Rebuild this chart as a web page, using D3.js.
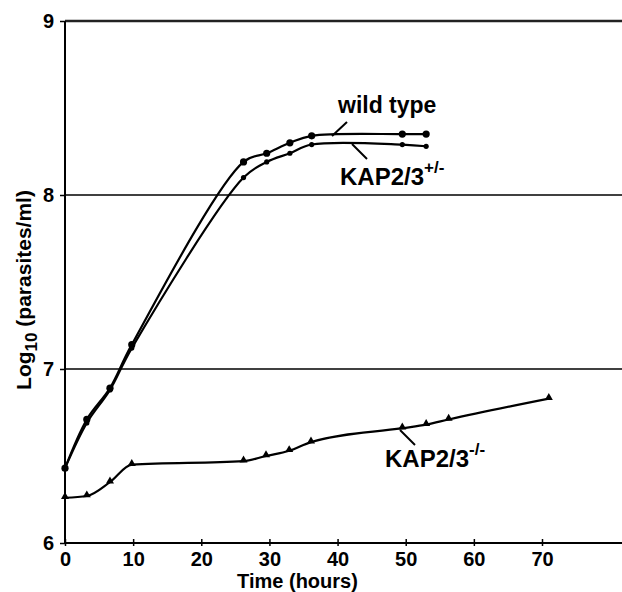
<!DOCTYPE html>
<html>
<head>
  <meta charset="utf-8">
  <title>Growth curves</title>
  <script src="https://d3js.org/d3.v7.min.js"></script>
  <style>
    body { margin: 0; background: #fff; }
    text { font-family: "Liberation Sans", Arial, sans-serif; font-weight: bold; fill: #000; }
  </style>
</head>
<body>
  <div id="viz"></div>
<script>
  // time (hours) for each series
  const timeWT = [0, 3.2, 6.6, 9.8, 26.2, 29.6, 33, 36.2, 49.5, 53];
  const valWT = [6.43, 6.71, 6.89, 7.14, 8.19, 8.24, 8.30, 8.34, 8.35, 8.35];
  const timeHet = [0, 3.2, 6.6, 9.8, 26.2, 29.6, 33, 36.2, 49.5, 53];
  const valHet = [6.43, 6.69, 6.88, 7.12, 8.10, 8.19, 8.24, 8.29, 8.29, 8.28];
  const timeKO = [0, 3.2, 6.6, 9.8, 26.2, 29.5, 32.9, 36.1, 49.5, 53, 56.3, 71];
  const valKO = [6.26, 6.27, 6.35, 6.45, 6.47, 6.50, 6.53, 6.58, 6.66, 6.68, 6.71, 6.83];
  const xTicks = [0, 10, 20, 30, 40, 50, 60, 70];
  const yTicks = [6, 7, 8, 9];

  const W = 622, H = 592;
  const LEFT = 65, RIGHT = 622, TOP = 21, BOTTOM = 543;

  const svg = d3.select("#viz").append("svg")
    .attr("width", W)
    .attr("height", H);

  const x = d3.scaleLinear().domain([0, 70]).range([LEFT, 542]);
  const y = d3.scaleLinear().domain([6, 9]).range([BOTTOM, TOP]);

  // horizontal gridlines at 7 and 8, heavier frame line at 9
  svg.selectAll(".grid")
    .data(yTicks.filter(d => d > 6))
    .enter().append("line")
    .attr("x1", LEFT).attr("x2", RIGHT)
    .attr("y1", d => y(d)).attr("y2", d => y(d))
    .attr("stroke", d => d === 9 ? "#222" : "#000")
    .attr("stroke-width", d => d === 9 ? 2.5 : 1.5);

  // y axis
  const yAxis = svg.append("g")
    .attr("transform", "translate(" + LEFT + ",0)")
    .call(d3.axisLeft(y).tickValues(yTicks).tickSize(5).tickPadding(6).tickFormat(d3.format("d")));
  yAxis.select(".domain").attr("stroke-width", 2).attr("d", "M0," + TOP + "V" + BOTTOM);
  yAxis.selectAll(".tick line").attr("stroke-width", 1.5);
  yAxis.selectAll(".tick text").style("font-size", "20px").attr("font-family", null);

  // x axis
  const xAxis = svg.append("g")
    .attr("transform", "translate(0," + BOTTOM + ")")
    .call(d3.axisBottom(x).tickValues(xTicks).tickSize(5).tickPadding(4));
  xAxis.select(".domain").attr("stroke-width", 2).attr("d", "M" + LEFT + ",0H" + RIGHT);
  xAxis.selectAll(".tick line").attr("stroke-width", 1.5).attr("y1", -4).attr("y2", 3);
  xAxis.selectAll(".tick text").style("font-size", "20px").attr("font-family", null);

  // axis titles
  svg.append("text")
    .attr("x", x(35) - 6).attr("y", 588)
    .attr("text-anchor", "middle")
    .style("font-size", "20px")
    .text("Time (hours)");

  const yt = svg.append("text")
    .attr("transform", "translate(31,290) rotate(-90)")
    .attr("text-anchor", "middle")
    .style("font-size", "21px");
  yt.append("tspan").text("Log");
  yt.append("tspan").attr("dy", 6).style("font-size", "17px").text("10");
  yt.append("tspan").attr("dy", -6).text(" (parasites/ml)");

  // smoothed lines: centripetal spline for the growth curves, monotone for the flat mutant
  const lineUp = d3.line()
    .x(d => x(d[0]))
    .y(d => y(d[1]))
    .curve(d3.curveCatmullRom.alpha(0.5));
  const lineKO = d3.line()
    .x(d => x(d[0]))
    .y(d => y(d[1]))
    .curve(d3.curveMonotoneX);

  const wt = d3.zip(timeWT, valWT);
  const het = d3.zip(timeHet, valHet);
  const ko = d3.zip(timeKO, valKO);

  [[wt, lineUp], [het, lineUp], [ko, lineKO]].forEach(([s, gen]) => {
    svg.append("path")
      .datum(s)
      .attr("d", gen)
      .attr("fill", "none")
      .attr("stroke", "#000")
      .attr("stroke-width", 2.2);
  });

  svg.selectAll(".dotWT").data(wt).enter().append("circle")
    .attr("cx", d => x(d[0])).attr("cy", d => y(d[1]))
    .attr("r", 3.6).attr("fill", "#000");

  svg.selectAll(".dotHet").data(het).enter().append("circle")
    .attr("cx", d => x(d[0])).attr("cy", d => y(d[1]))
    .attr("r", 2.6).attr("fill", "#000");

  const tri = d3.symbol().type(d3.symbolTriangle).size(28);
  svg.selectAll(".triKO").data(ko).enter().append("path")
    .attr("d", tri)
    .attr("transform", d => "translate(" + x(d[0]) + "," + (y(d[1]) - 1) + ")")
    .attr("fill", "#000");

  // series labels with leader lines
  function leader(x1, y1, x2, y2) {
    svg.append("line")
      .attr("x1", x1).attr("y1", y1).attr("x2", x2).attr("y2", y2)
      .attr("stroke", "#000").attr("stroke-width", 2);
  }
  leader(347, 122, 332, 136);
  leader(352, 144, 367, 159);
  leader(400, 430, 415, 445);

  svg.append("text")
    .attr("x", 338).attr("y", 113)
    .style("font-size", "23px")
    .text("wild type");

  function kapLabel(lx, ly, sup) {
    const t = svg.append("text")
      .attr("x", lx).attr("y", ly)
      .style("font-size", "24px");
    t.append("tspan").text("KAP2/3");
    t.append("tspan").attr("dy", -12).style("font-size", "17px").text(sup);
  }
  kapLabel(340, 185, "+/-");
  kapLabel(385, 467, "-/-");
</script>
</body>
</html>
